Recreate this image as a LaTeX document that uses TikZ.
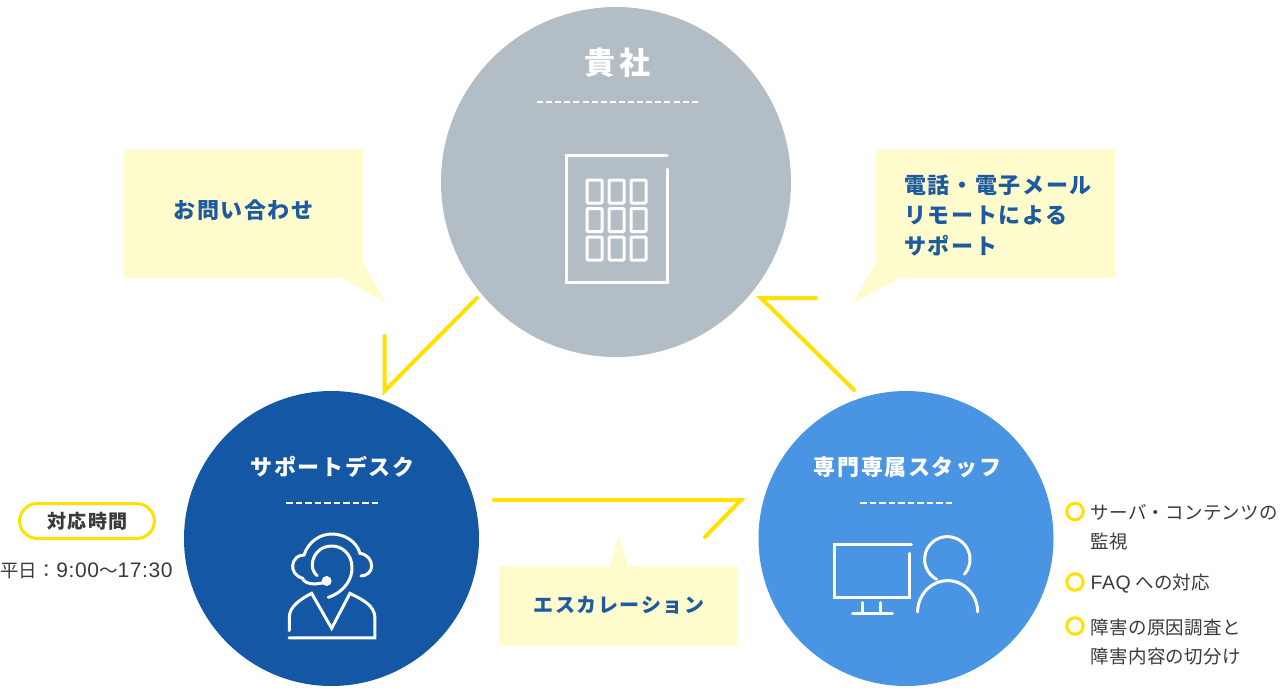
\documentclass[tikz,border=0pt]{standalone}
\usepackage{fontspec}
\setmainfont{Noto Sans CJK JP}[LetterSpace=7.5]
\newfontfamily\plainjp{Noto Sans CJK JP}[LetterSpace=1.5]
\newfontfamily\latinf{Liberation Sans}[LetterSpace=3]
\definecolor{cgray}{HTML}{B3BDC5}
\definecolor{cnavy}{HTML}{1457A4}
\definecolor{cblue}{HTML}{4A95E3}
\definecolor{cnote}{HTML}{FEFCCD}
\definecolor{ctext}{HTML}{1E5AA0}
\definecolor{cyel}{HTML}{FFE100}
\definecolor{cdark}{HTML}{3A3A3A}
\tikzset{
  x=1pt,y=-1pt,
  disc/.style={circle,draw=none,inner sep=0pt,minimum size=#1},
  linkline/.style={draw=cyel,line width=4pt,line cap=round,line join=miter},
  iconline/.style={draw=white,line width=3pt,line cap=round,line join=miter},
  dashrule/.style={draw=white,line width=2pt,dash pattern=on 6.5pt off 3pt},
  notebox/.style={fill=cnote,draw=none},
  titletext/.style={text=white,font=\bfseries\fontsize{22}{28}\selectfont,inner sep=0pt},
  notetext/.style={text=ctext,font=\bfseries\fontsize{22}{30.5}\selectfont,inner sep=0pt,align=left},
  bodytext/.style={text=cdark,font=\plainjp\fontsize{18.5}{29}\selectfont,inner sep=0pt,align=left,anchor=west},
  ring/.style={circle,draw=cyel,line width=3pt,fill=white,inner sep=0pt,minimum size=16.5pt},
}
\begin{document}
\begin{tikzpicture}
\useasboundingbox (0,0) rectangle (1280,694);
% circles
\node[disc=350pt,fill=cgray] (company) at (616,182) {};
\node[disc=295pt,fill=cnavy] (desk) at (331.5,538.5) {};
\node[disc=295pt,fill=cblue] (staff) at (906,538.5) {};
% callouts
\fill[notebox] (124,149) -- (363,149) -- (363,262) -- (386,303) -- (342,278) -- (124,278) -- cycle;
\fill[notebox] (876,149) -- (1115,149) -- (1115,278) -- (900,278) -- (853,303) -- (876,262) -- cycle;
\fill[notebox] (499,566) -- (610,566) -- (618.5,536) -- (628,566) -- (738,566) -- (738,645) -- (499,645) -- cycle;
% connectors
\coordinate (a1) at (477,298); \coordinate (a2) at (384.5,391); \coordinate (a3) at (384.5,336);
\coordinate (b1) at (854,390); \coordinate (b2) at (761,298); \coordinate (b3) at (816,298);
\coordinate (c1) at (494,500); \coordinate (c2) at (741,500); \coordinate (c3) at (705,537);
\draw[linkline] (a1) -- (a2) -- (a3);
\draw[linkline] (b1) -- (b2) -- (b3);
\draw[linkline] (c1) -- (c2) -- (c3);
% titles
\node[titletext,font=\bfseries\fontsize{31}{32}\selectfont\addfontfeature{LetterSpace=13}] (t1) at (618,63) {貴社};
\node[titletext] (t2) at (332.5,467) {サポートデスク};
\node[titletext] (t3) at (907.5,467) {専門専属スタッフ};
\coordinate (r1a) at (537,102); \coordinate (r1b) at (698,102);
\coordinate (r2a) at (286,503); \coordinate (r2b) at (378,503);
\coordinate (r3a) at (860,503); \coordinate (r3b) at (952,503);
\draw[dashrule,dash pattern=on 6pt off 3.1pt] (r1a) -- (r1b);
\draw[dashrule] (r2a) -- (r2b);
\draw[dashrule] (r3a) -- (r3b);
% callout texts
\node[notetext] (n1) at (243.5,210) {お問い合わせ};
\node[notetext,anchor=west] (n2) at (904,215) {電話・電子メール\\リモートによる\\サポート};
\node[notetext,font=\bfseries\fontsize{20}{26}\selectfont] (n3) at (619,605) {エスカレーション};
% building icon
\draw[iconline] (667,155.5) -- (566.5,155.5) -- (566.5,282) -- (667,282) -- (667,169);
\foreach \cx in {587,609,631}{\foreach \cy in {180,208.5,237}{
  \draw[draw=white,line width=3pt,rounded corners=1pt] (\cx,\cy) rectangle ++(15,23);
}}
% headset icon
\begin{scope}[shift={(260,510)},x=0.3333pt,y=-0.3333pt]
  \draw[iconline] (205,262) .. controls (255,245) and (278,205) .. (276,170) .. controls (274,130) and (245,108) .. (215,108) .. controls (180,108) and (157,135) .. (157,165) .. controls (157,180) and (163,190) .. (172,197);
  \draw[iconline] (195,218) -- (165,222) .. controls (145,222) and (130,215) .. (128,205) .. controls (105,198) and (97,180) .. (98,168) .. controls (100,145) and (115,135) .. (132,135) .. controls (145,95) and (180,72) .. (215,72) .. controls (255,72) and (290,95) .. (300,130) .. controls (322,133) and (335,150) .. (335,168) .. controls (335,185) and (320,198) .. (303,198);
  \fill[white] (200,213) circle[radius=15];
  \draw[iconline] (88,362) -- (88,322) .. controls (88,290) and (120,268) .. (155,250) -- (215,355) -- (270,250) .. controls (305,268) and (345,285) .. (345,325) -- (345,384) -- (87,384);
\end{scope}
% monitor + person icon
\begin{scope}[shift={(810,520)},x=0.3333pt,y=-0.3333pt]
  \draw[iconline] (304,72) -- (73,72) -- (73,232) -- (300,232) -- (300,100);
  \draw[iconline] (158,248) -- (158,280);
  \draw[iconline] (212,248) -- (212,280);
  \draw[iconline] (128,282) -- (247,282);
  \draw[iconline] plot[domain=41:-242,samples=70] ({412+68*cos(\x)},{118+68*sin(\x)});
  \draw[iconline] plot[domain=180:360,samples=50] ({413+90*cos(\x)},{276+94*sin(\x)});
\end{scope}
% hours
\node[draw=cyel,line width=3pt,rounded corners=18pt,minimum width=135pt,minimum height=35pt,inner sep=0pt,fill=white] (pill) at (87,521) {};
\node[text=cdark,font=\bfseries\fontsize{19}{22}\selectfont,inner sep=0pt] (pilltext) at (87.5,521) {対応時間};
\node[bodytext] (hours) at (0,571) {平日：{\latinf\fontsize{21}{29}\selectfont 9:00}〜{\latinf\fontsize{21}{29}\selectfont 17:30}};
% bullets
\node[ring] (d1) at (1075,511.5) {};
\node[ring] (d2) at (1075,582) {};
\node[ring] (d3) at (1075,626) {};
\node[bodytext,anchor=north west] (l1) at (1090.5,504) {サーバ・コンテンツの\\監視};
\node[bodytext] (l2) at (1090.5,584) {{\latinf\fontsize{19.5}{29}\selectfont FAQ} への対応};
\node[bodytext,anchor=north west] (l3) at (1090.5,618.5) {障害の原因調査と\\障害内容の切分け};
\end{tikzpicture}
\end{document}
